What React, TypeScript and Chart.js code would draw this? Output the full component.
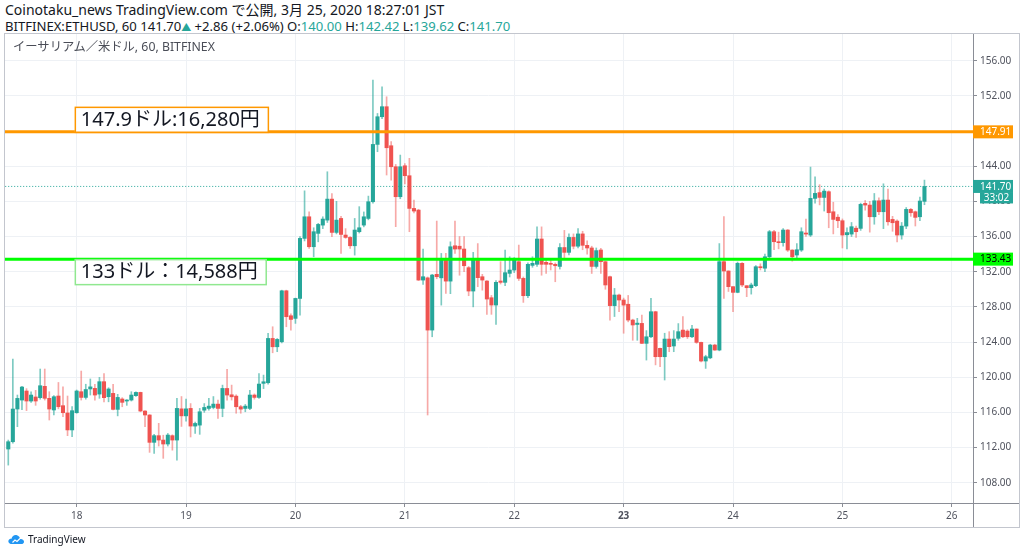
import React, { useEffect, useRef } from 'react';
import { Chart, registerables } from 'chart.js';

Chart.register(...registerables);

// ETH/USD 1h candles, from 17 Mar 09:00 JST to 25 Mar 18:00 JST
const opens = [
  111.83, 112.66, 116.38, 117.4, 118.43, 117.29, 117.75, 117.67, 118.96, 117.6,
  116.27, 117.86, 116.76, 115.93, 114.0, 115.96, 118.35, 117.7, 118.66, 118.73,
  118.08, 119.49, 117.78, 118.16, 116.34, 117.52, 117.29, 117.4, 117.9, 118.27,
  116.15, 115.7, 112.59, 113.35, 112.85, 112.4, 113.35, 112.85, 116.4, 115.6,
  116.45, 114.44, 114.55, 116.25, 116.45, 116.56, 116.94, 116.45, 118.72, 118.0,
  117.85, 116.64, 116.45, 116.45, 117.97, 117.7, 119.3, 119.37, 124.41, 123.46,
  124.03, 129.83, 126.99, 126.69, 128.96, 135.79, 138.25, 134.84, 136.36, 137.3,
  137.87, 140.26, 136.47, 138.06, 136.17, 135.9, 134.95, 136.55, 137.3, 138.06,
  139.96, 146.48, 149.63, 150.77, 146.33, 143.94, 140.53, 144.05, 142.92, 139.2,
  139.01, 131.05, 131.3, 125.36, 131.7, 131.3, 133.32, 130.93, 134.95, 134.9,
  134.58, 132.46, 129.8, 133.44, 131.43, 130.94, 129.04, 128.21, 130.94, 130.79,
  131.81, 132.19, 133.14, 131.24, 129.27, 132.72, 132.84, 135.72, 133.07, 132.95,
  132.84, 132.6, 134.75, 134.2, 135.9, 134.9, 136.3, 135.0, 134.7, 132.6,
  134.47, 133.14, 131.43, 128.14, 129.35, 128.78, 128.3, 126.5, 126.0, 126.12,
  123.85, 124.6, 127.45, 123.28, 122.33, 124.34, 123.55, 124.42, 125.36, 125.25,
  124.6, 125.48, 123.96, 121.84, 122.2, 123.66, 123.09, 133.14, 132.08, 130.3,
  129.65, 132.95, 130.41, 130.18, 130.41, 132.57, 132.4, 133.7, 136.55, 135.41,
  135.3, 136.74, 134.46, 133.9, 134.46, 136.4, 136.17, 140.34, 141.0, 140.45,
  141.1, 138.82, 138.2, 137.8, 136.2, 136.28, 136.95, 136.93, 139.77, 139.58,
  138.25, 140.07, 138.82, 140.15, 137.95, 137.76, 136.17, 137.19, 139.09, 138.82,
  138.25, 140.0,
];
const highs = [
  112.85, 122.07, 117.97, 118.96, 118.7, 118.35, 118.5, 120.93, 120.93, 118.35,
  117.9, 119.4, 118.9, 117.86, 116.65, 118.54, 120.7, 119.2, 119.8, 119.2,
  119.98, 120.4, 118.8, 119.2, 118.05, 117.67, 117.45, 118.35, 118.35, 118.3,
  116.2, 115.75, 113.5, 114.75, 113.4, 113.6, 113.45, 117.6, 117.8, 117.5,
  117.0, 114.9, 116.45, 117.0, 117.6, 117.8, 117.4, 119.1, 120.9, 119.1,
  118.0, 116.8, 116.9, 118.5, 118.1, 120.4, 120.24, 125.0, 125.74, 124.4,
  129.9, 129.9, 127.2, 129.0, 136.0, 141.2, 138.8, 137.0, 137.5, 138.25,
  143.37, 140.9, 140.0, 138.3, 136.9, 136.0, 138.06, 139.4, 138.8, 140.6,
  153.8, 150.0, 153.04, 151.9, 146.8, 144.2, 145.27, 144.3, 144.9, 140.15,
  139.1, 134.58, 131.4, 131.7, 137.76, 134.08, 134.08, 135.4, 137.76, 136.0,
  136.0, 132.6, 134.2, 135.2, 131.7, 131.0, 129.3, 131.0, 133.14, 134.47,
  133.7, 133.6, 135.03, 131.4, 133.0, 133.7, 137.1, 137.1, 133.4, 133.3,
  133.0, 135.2, 136.7, 136.3, 136.3, 136.9, 136.6, 135.5, 134.9, 134.7,
  134.66, 133.2, 131.5, 130.1, 129.45, 129.0, 129.3, 126.6, 126.7, 127.07,
  125.3, 128.97, 127.5, 123.3, 125.0, 125.18, 125.3, 126.1, 126.9, 125.4,
  125.9, 125.5, 124.0, 122.5, 123.75, 123.75, 135.2, 138.26, 132.1, 130.3,
  133.1, 133.05, 130.4, 130.7, 132.7, 132.9, 134.0, 136.7, 136.7, 136.5,
  136.9, 136.8, 134.5, 135.2, 137.0, 138.0, 143.9, 142.8, 141.9, 141.4,
  141.2, 139.9, 138.5, 138.0, 137.0, 137.6, 137.2, 139.8, 140.1, 140.0,
  140.9, 140.4, 142.0, 141.4, 138.3, 137.9, 137.6, 139.3, 139.2, 138.9,
  140.5, 142.42,
];
const lows = [
  110.0, 112.5, 114.37, 116.3, 116.2, 117.14, 116.8, 117.5, 117.4, 115.13,
  115.7, 116.4, 115.5, 113.35, 113.23, 115.9, 117.4, 117.5, 117.97, 117.4,
  117.6, 117.2, 117.2, 116.27, 115.6, 116.64, 116.8, 117.29, 117.8, 116.07,
  114.37, 111.45, 111.33, 112.17, 110.77, 112.17, 111.7, 110.57, 114.4, 115.0,
  113.2, 113.6, 113.5, 116.0, 116.25, 116.4, 115.3, 115.5, 117.4, 117.4,
  115.9, 115.9, 116.07, 116.3, 117.5, 117.6, 118.7, 119.2, 122.78, 122.9,
  123.9, 125.74, 125.36, 126.12, 127.07, 135.5, 134.65, 133.7, 135.4, 136.9,
  137.6, 135.98, 136.3, 134.08, 135.8, 134.65, 133.89, 136.4, 137.1, 137.9,
  139.8, 145.65, 149.4, 143.0, 142.4, 137.12, 140.3, 142.0, 136.55, 138.7,
  131.0, 130.56, 115.7, 124.6, 131.2, 128.2, 129.53, 129.5, 134.08, 131.6,
  132.0, 129.27, 128.0, 130.3, 129.9, 127.15, 127.15, 126.0, 130.6, 130.4,
  131.4, 131.9, 131.0, 128.51, 129.04, 132.5, 132.6, 131.6, 131.8, 132.2,
  130.86, 132.3, 133.5, 133.9, 134.6, 134.7, 134.5, 134.0, 131.8, 132.4,
  131.8, 130.0, 126.5, 126.9, 127.45, 125.0, 126.3, 124.2, 124.2, 123.8,
  121.95, 124.5, 121.4, 121.2, 119.68, 122.9, 122.9, 124.2, 124.5, 124.4,
  124.5, 123.85, 121.75, 121.0, 122.1, 123.05, 123.0, 128.97, 129.75, 127.45,
  129.6, 130.3, 129.16, 129.45, 130.3, 132.2, 132.0, 133.4, 134.5, 134.6,
  134.9, 134.3, 133.2, 133.4, 134.3, 136.0, 136.0, 139.8, 139.6, 138.9,
  137.0, 136.3, 137.0, 134.7, 134.6, 136.0, 135.9, 136.7, 139.0, 136.5,
  137.4, 138.5, 136.9, 137.3, 136.6, 135.4, 135.7, 136.9, 138.3, 137.2,
  137.8, 139.62,
];
const closes = [
  112.66, 116.38, 117.59, 118.88, 117.29, 117.97, 117.29, 119.03, 117.6, 116.38,
  117.78, 116.64, 115.96, 114.0, 116.19, 118.43, 117.7, 118.6, 118.9, 117.97,
  119.49, 117.67, 118.66, 116.34, 117.7, 117.14, 117.4, 117.97, 118.27, 116.15,
  115.7, 112.59, 113.35, 112.85, 112.4, 113.42, 112.85, 116.45, 115.6, 116.4,
  114.44, 114.74, 116.07, 116.56, 116.71, 116.94, 116.45, 118.72, 117.97, 117.77,
  116.64, 116.37, 116.71, 117.97, 117.7, 119.22, 119.48, 124.41, 123.46, 124.3,
  129.83, 126.88, 126.57, 128.96, 135.79, 138.25, 134.84, 136.55, 137.38, 137.99,
  140.26, 136.47, 137.87, 136.24, 135.9, 134.95, 136.74, 137.0, 138.25, 139.96,
  146.48, 149.63, 150.77, 146.1, 143.94, 140.53, 143.94, 142.92, 139.2, 138.9,
  131.05, 131.43, 125.36, 131.62, 131.43, 133.5, 130.93, 134.84, 134.58, 134.58,
  132.68, 129.8, 133.44, 131.32, 131.05, 128.89, 128.21, 130.79, 130.79, 131.89,
  132.19, 133.33, 131.24, 129.27, 132.84, 132.95, 135.72, 132.84, 132.84, 132.84,
  132.68, 134.75, 134.2, 135.9, 134.9, 136.3, 135.0, 134.7, 132.6, 134.4,
  133.14, 130.49, 128.14, 129.35, 128.78, 128.2, 126.5, 125.94, 126.15, 123.85,
  124.6, 127.45, 122.33, 122.33, 124.34, 123.47, 124.34, 125.18, 124.6, 124.6,
  125.48, 123.96, 121.84, 122.33, 123.66, 123.09, 133.14, 132.08, 130.3, 129.65,
  132.95, 130.49, 130.18, 130.49, 132.57, 132.45, 133.7, 136.55, 135.41, 135.3,
  136.74, 134.46, 133.7, 134.5, 136.55, 136.28, 140.34, 140.91, 140.45, 141.17,
  138.71, 137.95, 137.8, 136.17, 136.45, 137.12, 136.55, 139.66, 139.58, 138.25,
  140.07, 138.82, 140.15, 137.68, 137.57, 136.17, 137.19, 139.09, 138.71, 138.18,
  140.04, 141.7,
];

const dayLabels = ['18', '19', '20', '21', '22', '23', '24', '25', '26'];
const boldDayLabels = ['23'];
const firstDayCandle = 15; // candle index of 18 Mar 00:00
const candlesPerDay = 24;
const priceTicks = [108, 112, 116, 120, 124, 128, 132, 136, 140, 144, 148, 152, 156];

const resistancePrice = 147.91;
const supportPrice = 133.43;
const lastPrice = 141.7;
const countdownText = '33:02';
const resistanceNote = '147.9ドル:16,280円';
const supportNote = '133ドル：14,588円';

const UP = '#26a69a';
const DOWN = '#ef5350';
const UP_WICK = 'rgba(38,166,154,0.6)';
const DOWN_WICK = 'rgba(239,83,80,0.5)';
const ORANGE = '#ff9800';
const LIME = '#00ff00';
const FONT = "'Noto Sans', 'Noto Sans CJK JP', sans-serif";
const TEXT = '#131722';
const AXIS_TEXT = '#50535e';

const X_MIN = -0.94;
const X_MAX = 211.65;
const Y_MIN = 105.69;
const Y_MAX = 159.04;

function App() {
  const ref = useRef<HTMLCanvasElement | null>(null);

  useEffect(() => {
    if (!ref.current) return;
    const isUp = (i: number) => closes[i] >= opens[i];
    const bodies = opens.map((o, i) => ({ x: i, y: [Math.min(o, closes[i]), Math.max(o, closes[i])] }));
    const wicks = lows.map((l, i) => ({ x: i, y: [l, highs[i]] }));
    const span = (v: number) => [{ x: X_MIN - 5, y: v }, { x: X_MAX + 5, y: v }];

    const overlay = {
      id: 'overlay',
      afterDraw(chart: any) {
        const { ctx, chartArea, scales } = chart;
        const xs = scales.x;
        const ys = scales.y;
        ctx.save();
        // axis frame extensions
        ctx.strokeStyle = '#8a8d96';
        ctx.lineWidth = 1;
        ctx.beginPath();
        ctx.moveTo(chartArea.right + 0.5, chartArea.bottom);
        ctx.lineTo(chartArea.right + 0.5, chart.height - 25);
        ctx.moveTo(chartArea.right, chartArea.bottom + 0.5);
        ctx.lineTo(chart.width - 5, chartArea.bottom + 0.5);
        ctx.stroke();

        // note boxes
        const noteBox = (text: string, price: number, above: boolean, border: string) => {
          ctx.font = `20px ${FONT}`;
          const w = ctx.measureText(text).width + 14;
          const h = 25;
          const left = xs.getPixelForValue(14.6);
          const yLine = ys.getPixelForValue(price);
          const top = above ? yLine - h : yLine;
          ctx.fillStyle = '#ffffff';
          ctx.fillRect(left, top, w, h);
          ctx.strokeStyle = border;
          ctx.lineWidth = 1.5;
          ctx.strokeRect(left + 0.5, top + 0.5, w, h);
          ctx.fillStyle = TEXT;
          ctx.textBaseline = 'middle';
          ctx.textAlign = 'left';
          ctx.fillText(text, left + 6, top + h / 2 + 1);
        };
        noteBox(resistanceNote, resistancePrice, true, ORANGE);
        noteBox(supportNote, supportPrice, false, '#90e890');

        // price tags on axis
        const tag = (price: number, text: string, bg: string, fg: string) => {
          const y = ys.getPixelForValue(price);
          const h = 13;
          ctx.fillStyle = bg;
          ctx.fillRect(chartArea.right, y - h / 2, 40, h);
          ctx.fillStyle = fg;
          ctx.font = `10px ${FONT}`;
          ctx.textBaseline = 'middle';
          ctx.textAlign = 'left';
          ctx.fillText(text, chartArea.right + 7, y + 0.5);
          return y;
        };
        tag(resistancePrice, resistancePrice.toFixed(2), ORANGE, '#ffffff');
        const yl = tag(lastPrice, lastPrice.toFixed(2), UP, '#ffffff');
        ctx.fillStyle = UP;
        ctx.fillRect(chartArea.right + 7, yl + 6, 33, 11);
        ctx.fillStyle = '#ffffff';
        ctx.textAlign = 'center';
        ctx.fillText(countdownText, chartArea.right + 23.5, yl + 12);
        tag(supportPrice, supportPrice.toFixed(2), LIME, '#000000');
        ctx.restore();
      },
    };

    const chart = new Chart(ref.current, {
      type: 'bar',
      data: {
        datasets: [
          {
            type: 'line',
            data: span(resistancePrice),
            borderColor: ORANGE,
            borderWidth: 3,
            pointRadius: 0,
            order: 0,
          } as any,
          {
            type: 'line',
            data: span(supportPrice),
            borderColor: LIME,
            borderWidth: 3,
            pointRadius: 0,
            order: 0,
          } as any,
          {
            type: 'bar',
            data: bodies,
            backgroundColor: opens.map((_, i) => (isUp(i) ? UP : DOWN)),
            barThickness: 3.4,
            minBarLength: 1,
            grouped: false,
            order: 1,
          } as any,
          {
            type: 'bar',
            data: wicks,
            backgroundColor: opens.map((_, i) => (isUp(i) ? UP_WICK : DOWN_WICK)),
            barThickness: 1,
            grouped: false,
            order: 2,
          } as any,
          {
            type: 'line',
            data: span(lastPrice),
            borderColor: UP,
            borderWidth: 1,
            borderDash: [1, 2],
            pointRadius: 0,
            order: 3,
          } as any,
        ],
      },
      options: {
        animation: false,
        responsive: false,
        devicePixelRatio: 1,
        layout: { padding: { left: 4, top: 34, right: 5, bottom: 25 } },
        plugins: { legend: { display: false }, tooltip: { enabled: false } },
        scales: {
          x: {
            type: 'linear',
            min: X_MIN,
            max: X_MAX,
            offset: false,
            position: 'bottom',
            afterBuildTicks: (s: any) => {
              s.ticks = dayLabels.map((_, k) => ({ value: firstDayCandle + k * candlesPerDay }));
            },
            afterFit: (s: any) => {
              s.height = 24;
            },
            ticks: {
              autoSkip: false,
              maxRotation: 0,
              padding: 3,
              color: AXIS_TEXT,
              callback: (v: any) => dayLabels[Math.round((Number(v) - firstDayCandle) / candlesPerDay)],
              font: (c: any) => {
                const lab = c.tick ? dayLabels[Math.round((c.tick.value - firstDayCandle) / candlesPerDay)] : '';
                return { family: FONT, size: 10, weight: boldDayLabels.includes(lab) ? 'bold' : 'normal' };
              },
            },
            grid: { color: '#eef1f5', tickColor: '#8a8d96', tickLength: 4, offset: false },
            border: { display: true, color: '#8a8d96' },
          },
          y: {
            type: 'linear',
            position: 'right',
            min: Y_MIN,
            max: Y_MAX,
            afterBuildTicks: (s: any) => {
              s.ticks = priceTicks.map((v) => ({ value: v }));
            },
            afterFit: (s: any) => {
              s.width = 46;
            },
            ticks: {
              padding: 3,
              color: AXIS_TEXT,
              font: { family: FONT, size: 10 },
              callback: (v: any) => Number(v).toFixed(2),
            },
            grid: { color: '#eef1f5', tickColor: '#8a8d96', tickLength: 4 },
            border: { display: true, color: '#8a8d96' },
          },
        },
      } as any,
      plugins: [overlay],
    });
    return () => chart.destroy();
  }, []);

  return (
    <div
      style={{
        position: 'fixed',
        left: 0,
        top: 0,
        width: 1024,
        height: 552,
        background: '#ffffff',
        overflow: 'hidden',
        fontFamily: FONT,
        color: TEXT,
      }}
    >
      <div style={{ position: 'absolute', left: 5, top: 1, fontSize: 14, lineHeight: '17px', whiteSpace: 'nowrap' }}>
        Coinotaku_news TradingView.com で公開, 3月 25, 2020 18:27:01 JST
      </div>
      <div style={{ position: 'absolute', left: 5, top: 18, fontSize: 13.1, lineHeight: '17px', whiteSpace: 'nowrap' }}>
        BITFINEX:ETHUSD, 60 141.70<span style={{ color: UP, fontSize: 10 }}>▲</span> +2.86 (+2.06%) O:
        <span style={{ color: UP }}>140.00</span> H:<span style={{ color: UP }}>142.42</span> L:
        <span style={{ color: UP }}>139.62</span> C:<span style={{ color: UP }}>141.70</span>
      </div>
      <canvas ref={ref} width={1024} height={552} style={{ position: 'absolute', left: 0, top: 0, width: 1024, height: 552 }} />
      <div
        style={{
          position: 'absolute',
          left: 4,
          top: 33,
          width: 1014,
          height: 493,
          border: '1px solid #c3c6ce',
          pointerEvents: 'none',
        }}
      />
      <div style={{ position: 'absolute', left: 13, top: 38, fontSize: 12.3, lineHeight: '18px', color: '#4a4d57', whiteSpace: 'nowrap' }}>
        イーサリアム／米ドル, 60, BITFINEX
      </div>
      <div style={{ position: 'absolute', left: 8, top: 532, display: 'flex', alignItems: 'center', gap: 3 }}>
        <svg width="17" height="11" viewBox="0 0 17 11">
          <path d="M4 10 C1 10 0 8 0.5 6.5 C1 5 2.5 4.5 3.5 4.8 C4 2 6.5 0.5 9 1.2 C11 1.8 12 3.5 12 5 C14 4.6 16.5 6 16 8.2 C15.6 9.6 14.5 10 13 10 Z" fill="#2196f3" />
          <path d="M4.5 8.5 L7 6 L9 7.5 L12 4.5" stroke="#ffffff" strokeWidth="1.2" fill="none" />
        </svg>
        <span style={{ fontSize: 10, color: '#131722' }}>TradingView</span>
      </div>
    </div>
  );
}

export default App;
